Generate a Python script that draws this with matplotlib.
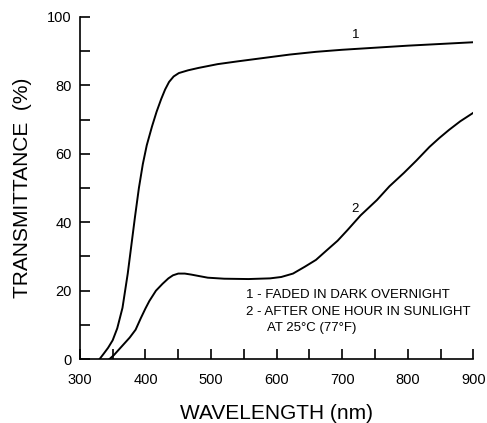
import matplotlib.pyplot as plt
from matplotlib.ticker import MultipleLocator

plt.rcParams['font.family'] = ['Liberation Sans', 'DejaVu Sans']

# curve 1 - faded in dark overnight
wl_1 = [330, 336, 343, 350, 357, 365, 373, 379, 384, 390, 396, 402, 410, 417,
        424, 430, 436, 443, 451, 465, 481, 510, 540, 580, 620, 660, 700, 750,
        800, 850, 900]
tr_1 = [0, 1.5, 3.3, 5.5, 9, 15, 25, 34, 41.5, 50, 57, 62.5, 68, 72.3,
        76, 78.8, 81, 82.6, 83.6, 84.4, 85.1, 86.2, 87, 88, 89, 89.8, 90.4, 91,
        91.6, 92.1, 92.6]

# curve 2 - after one hour in sunlight
wl_2 = [345, 352, 360, 368, 376, 385, 393, 400, 406, 416, 426, 435, 442, 450,
        460, 470, 481, 495, 520, 557, 590, 607, 625, 643, 660, 677, 693, 708,
        728, 753, 772, 794, 813, 833, 848, 863, 880, 900]
tr_2 = [0, 1.2, 2.9, 4.6, 6.3, 8.6, 12, 14.8, 17, 20, 22, 23.6, 24.5, 25,
        25, 24.7, 24.3, 23.8, 23.5, 23.4, 23.6, 24, 25, 27, 29, 31.9, 34.6, 37.7,
        42, 46.5, 50.5, 54.4, 58, 62, 64.6, 67, 69.5, 72]

legend_lines = ["1 - FADED IN DARK OVERNIGHT",
                "2 - AFTER ONE HOUR IN SUNLIGHT",
                "      AT 25\u00b0C (77\u00b0F)"]

fig = plt.figure(figsize=(4.87, 4.23), dpi=100)
ax = fig.add_axes([0.164, 0.151, 0.808, 0.809])

ax.plot(wl_1, tr_1, color="black", lw=1.4)
ax.plot(wl_2, tr_2, color="black", lw=1.4)

ax.text(720, 94.7, "1", fontsize=9.5, ha="center", va="center")
ax.text(720, 44, "2", fontsize=9.5, ha="center", va="center")
ax.text(554, 18.7, legend_lines[0], fontsize=9.5, va="center")
ax.text(554, 13.7, legend_lines[1], fontsize=9.5, va="center")
ax.text(554, 9, legend_lines[2], fontsize=9.5, va="center")

ax.set_xlim(300, 900)
ax.set_ylim(0, 100)
ax.xaxis.set_major_locator(MultipleLocator(100))
ax.xaxis.set_minor_locator(MultipleLocator(50))
ax.yaxis.set_major_locator(MultipleLocator(20))
ax.yaxis.set_minor_locator(MultipleLocator(10))
ax.tick_params(axis="both", which="both", direction="in", length=7, width=1.2,
               labelsize=10.5)
ax.tick_params(axis="x", pad=10)
ax.tick_params(axis="y", pad=6)

for s in ["top", "right"]:
    ax.spines[s].set_visible(False)
for s in ["left", "bottom"]:
    ax.spines[s].set_linewidth(1.2)

ax.set_xlabel("WAVELENGTH (nm)", fontsize=15, labelpad=12)
ax.set_ylabel("TRANSMITTANCE  (%)", fontsize=15, labelpad=11)

plt.savefig("out.png", dpi=100)
plt.close()
